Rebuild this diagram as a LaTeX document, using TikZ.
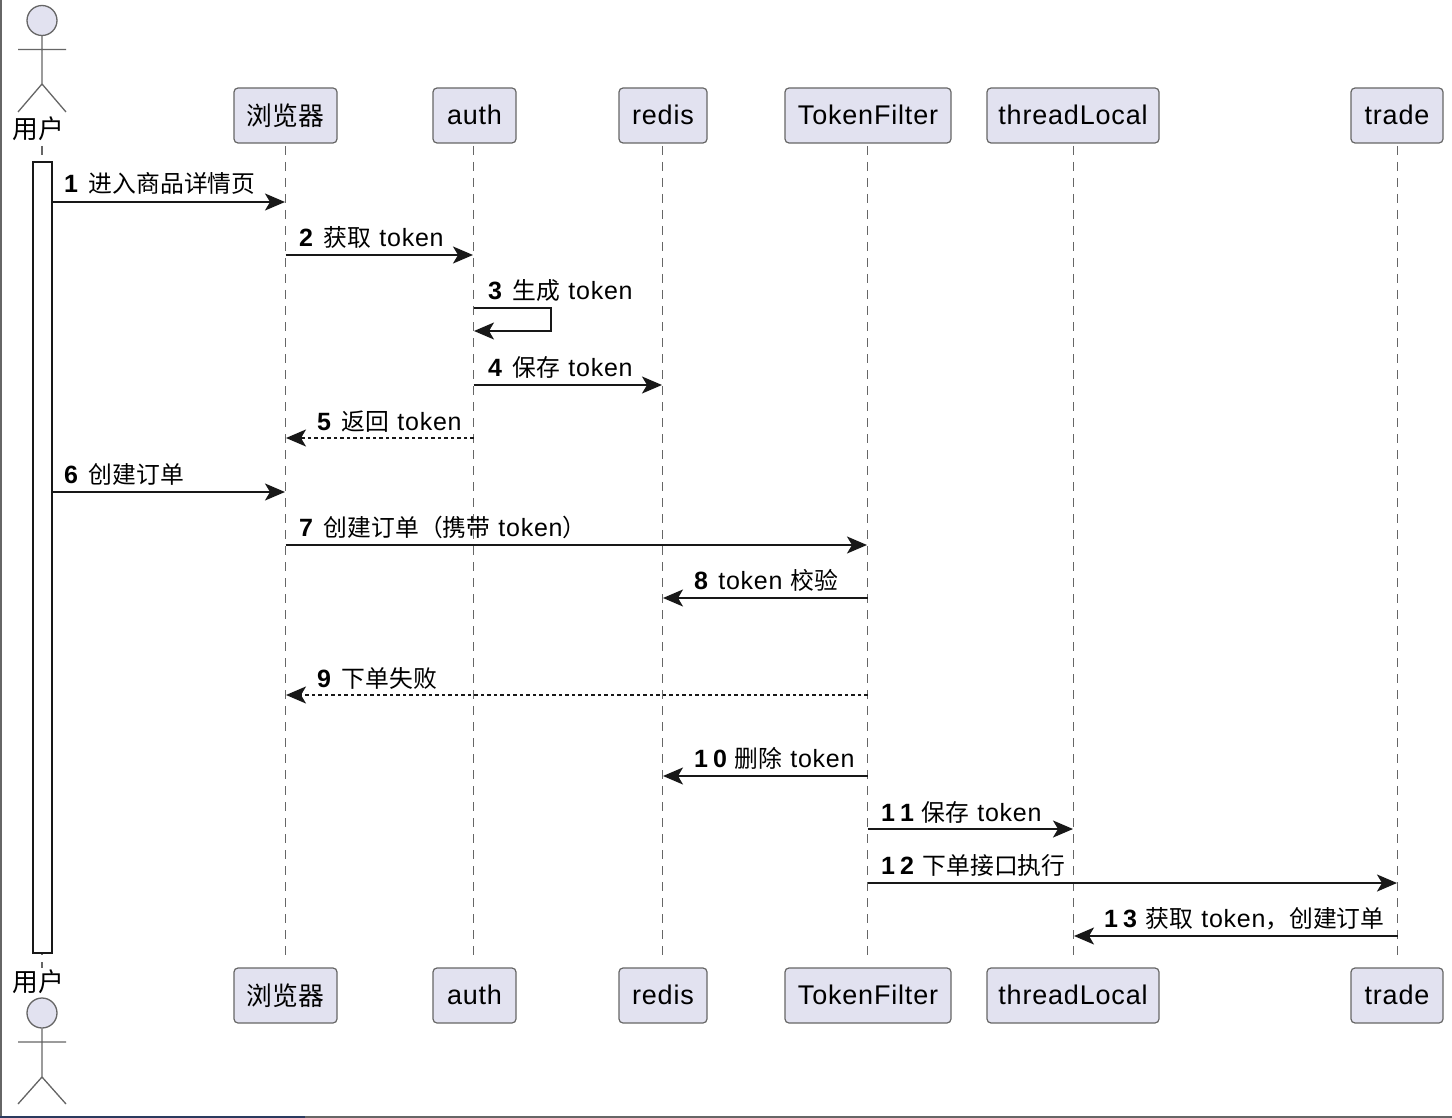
\documentclass[tikz,border=0pt]{standalone}
\usepackage{fontspec}
\usetikzlibrary{arrows.meta}
\setmainfont[LetterSpace=3]{Liberation Sans}
\newfontfamily\cjk{Noto Sans CJK SC}
\definecolor{partfill}{HTML}{E2E2F0}
\definecolor{ink}{HTML}{181818}
\definecolor{lifegray}{HTML}{666666}
\definecolor{edgeblue}{HTML}{2A3A5F}
\newcommand{\zh}[1]{{\cjk\fontsize{23.8}{30}\selectfont #1}}
\newcommand{\zhbig}[1]{{\cjk\fontsize{25.8}{30}\selectfont #1}}
\newcommand{\num}[1]{\textbf{#1}}
\newcommand{\wgap}{\hspace{8pt}}
\tikzset{
  x=1pt,y=-1pt,
  part/.style={draw=lifegray,fill=partfill,line width=1.2pt,rounded corners=4pt,inner sep=0pt,font=\fontsize{27}{30}\selectfont,text=black},
  life/.style={draw=lifegray,line width=1.4pt,dash pattern=on 9pt off 7pt},
  msg/.style={draw=ink,line width=2pt,shorten >=0.5pt,-{Stealth[length=20pt,width=17pt,inset=5pt]}},
  ret/.style={msg,dash pattern=on 3.5pt off 3pt},
  actorline/.style={draw=lifegray,line width=1.3pt},
  head/.style={circle,draw=lifegray,fill=partfill,line width=1.3pt,minimum size=30pt,inner sep=0pt},
  lab/.style={anchor=base west,inner sep=0pt,font=\fontsize{25}{30}\selectfont,text=black},
  actlab/.style={inner sep=0pt,font=\fontsize{25}{30}\selectfont,text=black},
  actbox/.style={draw=ink,fill=white,line width=1.8pt}
}
\begin{document}
\begin{tikzpicture}
\useasboundingbox (0,0) rectangle (1452,1118);
\fill[white] (0,0) rectangle (1452,1118);
% window edges
\fill[lifegray] (0,0) rectangle (1.6,1116);
\fill[lifegray] (0,1116) rectangle (1452,1118);
\fill[edgeblue] (0,1116) rectangle (305,1118);

% participants
\foreach \n/\a/\b/\t in {br/234/337/\zhbig{浏览器},au/433/516/auth,re/619/707/redis,tf/785/951/TokenFilter,tl/987/1159/threadLocal,tr/1351/1443/trade}{
  \node[part,minimum width=\b pt-\a pt,minimum height=55pt] (\n T) at ({(\a+\b)/2},115.5) {\raisebox{1pt}{\t}};
  \node[part,minimum width=\b pt-\a pt,minimum height=55pt] (\n B) at ({(\a+\b)/2},995.5) {\raisebox{1pt}{\t}};
}
% lifelines
\coordinate (usT) at (42,146);
\coordinate (usB) at (42,968);
\coordinate (brA) at (285.5,146); \coordinate (brZ) at (285.5,962);
\coordinate (auA) at (473.5,146); \coordinate (auZ) at (473.5,962);
\coordinate (reA) at (662.5,146); \coordinate (reZ) at (662.5,962);
\coordinate (tfA) at (867.5,146);   \coordinate (tfZ) at (867.5,962);
\coordinate (tlA) at (1073.5,146);  \coordinate (tlZ) at (1073.5,962);
\coordinate (trA) at (1397.5,146);\coordinate (trZ) at (1397.5,962);
\draw[life] (usT) -- (usB);
\foreach \n in {br,au,re,tf,tl,tr}{ \draw[life] (\n A) -- (\n Z); }

% activation
\draw[actbox] (33,162) rectangle (52,953);
\coordinate (act) at (52,500);

% actors
\node[head] (h1) at (42,20.5) {};
\coordinate (hip1) at (42,84); \coordinate (al1) at (18,49.5); \coordinate (ar1) at (66,49.5);
\coordinate (ll1) at (18,112); \coordinate (lr1) at (66,112);
\draw[actorline] (h1.south) -- (hip1) (al1) -- (ar1) (ll1) -- (hip1) -- (lr1);
\node[actlab] (ulT) at (38,129) {\zhbig{用户}};

\node[actlab] (ulB) at (38,982) {\zhbig{用户}};
\node[head] (h2) at (42,1013) {};
\coordinate (hip2) at (42,1077); \coordinate (al2) at (18,1042); \coordinate (ar2) at (66,1042);
\coordinate (ll2) at (18,1104); \coordinate (lr2) at (66,1104);
\draw[actorline] (h2.south) -- (hip2) (al2) -- (ar2) (ll2) -- (hip2) -- (lr2);

% message rows
\foreach \i/\y in {1/202,2/255,3/308,3b/331,4/385,5/438,6/492,7/545,8/598,9/695,10/776,11/829,12/883,13/936}{
  \coordinate (r\i) at (0,\y);
}
\draw[msg] (act |- r1) -- (brA |- r1);
\draw[msg] (brA |- r2) -- (auA |- r2);
\draw[msg,rounded corners=0pt] (auA |- r3) -- (551,308) -- (551,331) -- (auA |- r3b);
\draw[msg] (auA |- r4) -- (reA |- r4);
\draw[ret] (auA |- r5) -- (brA |- r5);
\draw[msg] (act |- r6) -- (brA |- r6);
\draw[msg] (brA |- r7) -- (tfA |- r7);
\draw[msg] (tfA |- r8) -- (reA |- r8);
\draw[ret] (tfA |- r9) -- (brA |- r9);
\draw[msg] (tfA |- r10) -- (reA |- r10);
\draw[msg] (tfA |- r11) -- (tlA |- r11);
\draw[msg] (tfA |- r12) -- (trA |- r12);
\draw[msg] (trA |- r13) -- (tlA |- r13);

% labels
\node[lab] (m1) at (64,193) {\num{1}\hspace{10pt}\zh{进入商品详情页}};
\node[lab] (m2) at (299,247) {\num{2}\hspace{10pt}\zh{获取}\wgap token};
\node[lab] (m3) at (488,300) {\num{3}\hspace{10pt}\zh{生成}\wgap token};
\node[lab] (m4) at (488,376) {\num{4}\hspace{10pt}\zh{保存}\wgap token};
\node[lab] (m5) at (317,430) {\num{5}\hspace{10pt}\zh{返回}\wgap token};
\node[lab] (m6) at (64,483) {\num{6}\hspace{10pt}\zh{创建订单}};
\node[lab] (m7) at (299,536) {\num{7}\hspace{10pt}\zh{创建订单（携带}\wgap token\zh{）}};
\node[lab] (m8) at (694,589) {\num{8}\hspace{9.5pt}token\wgap\zh{校验}};
\node[lab] (m9) at (317,687) {\num{9}\hspace{10pt}\zh{下单失败}};
\node[lab] (m10) at (694,767) {\num{1\hspace{5pt}0}\hspace{7pt}\zh{删除}\wgap token};
\node[lab] (m11) at (881,821) {\num{1\hspace{5pt}1}\hspace{7pt}\zh{保存}\wgap token};
\node[lab] (m12) at (881,874) {\num{1\hspace{5pt}2}\hspace{8pt}\zh{下单接口执行}};
\node[lab] (m13) at (1104,927) {\num{1\hspace{5pt}3}\hspace{8pt}\zh{获取}\wgap token\zh{，创建订单}};
\end{tikzpicture}
\end{document}
